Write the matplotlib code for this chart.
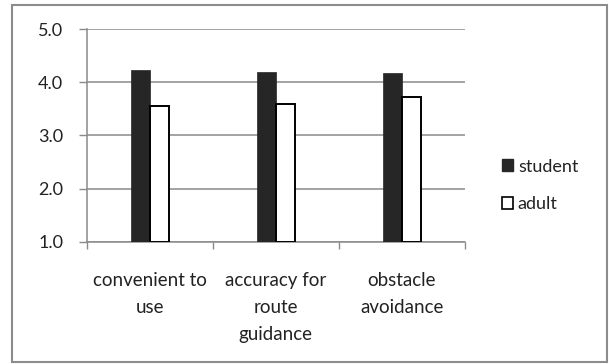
import numpy as np
import matplotlib.pyplot as plt
from matplotlib.patches import Patch, Rectangle

# ratings per item and group
categories = ['convenient to\nuse', 'accuracy for\nroute\nguidance', 'obstacle\navoidance']
student = [4.24, 4.20, 4.17]
adult = [3.56, 3.59, 3.72]
yticks = [1.0, 2.0, 3.0, 4.0, 5.0]

plt.rcParams['font.family'] = ['Lato', 'DejaVu Sans']
text_col = '#222222'
grid_col = '#8a8a8a'

fig = plt.figure(figsize=(6.09, 3.64), dpi=100)
ax = fig.add_axes([0.1424, 0.336, 0.621, 0.584])

x = np.arange(len(categories))
w = 0.15
ax.bar(x - w / 2, np.array(student) - 1, w, bottom=1, color='#262626',
       edgecolor='#262626', linewidth=0.5, zorder=3)
ax.bar(x + w / 2, np.array(adult) - 1, w, bottom=1, color='white',
       edgecolor='black', linewidth=1.4, zorder=3)

ax.set_xlim(-0.5, 2.5)
ax.set_ylim(1, 5)
ax.set_yticks(yticks)
ax.set_yticklabels([f'{v:.1f}' for v in yticks], fontsize=13, color=text_col)
ax.yaxis.grid(True, color=grid_col, linewidth=1.1, zorder=0)

# category boundaries carry the ticks, names sit between them
ax.set_xticks([-0.5, 0.5, 1.5, 2.5])
ax.set_xticklabels([])
ax.set_xticks(x, minor=True)
ax.set_xticklabels(categories, minor=True, fontsize=13.5, color=text_col,
                   linespacing=1.7)
ax.tick_params(axis='x', which='minor', length=0, pad=22)
ax.tick_params(axis='x', which='major', length=5, color=grid_col, width=1)
ax.tick_params(axis='y', length=6, color=grid_col, width=1, pad=11)

for s in ['top', 'right']:
    ax.spines[s].set_visible(False)
ax.spines['left'].set_color(grid_col)
ax.spines['bottom'].set_color(grid_col)
ax.spines['left'].set_linewidth(1.1)
ax.spines['bottom'].set_linewidth(1.1)

handles = [Patch(facecolor='#262626', edgecolor='#262626', label='student'),
           Patch(facecolor='white', edgecolor='black', linewidth=1.2, label='adult')]
fig.legend(handles=handles, loc='center left', bbox_to_anchor=(0.797, 0.49),
           frameon=False, handlelength=0.65, handleheight=0.65,
           handletextpad=0.25, labelspacing=1.2, fontsize=13,
           labelcolor=text_col)

# outer chart border
fig.patches.append(Rectangle((12 / 609, 2 / 364), 595 / 609, 357 / 364,
                             transform=fig.transFigure, fill=False,
                             edgecolor='#8c8c8c', linewidth=1.5))

fig.savefig('out.png', dpi=100)
